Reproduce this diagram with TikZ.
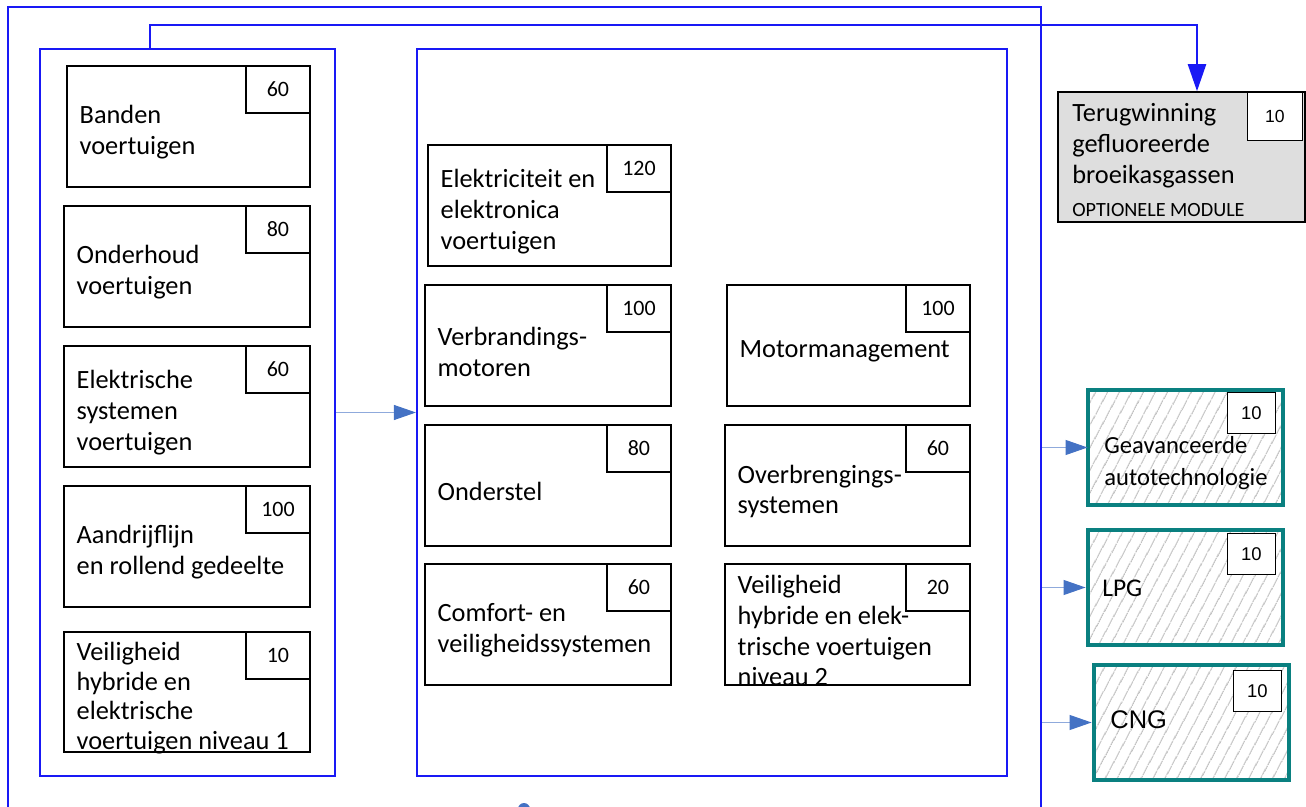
\documentclass[tikz,border=0pt]{standalone}
\usepackage{fontspec}
\setmainfont{Carlito}
\newfontfamily\arial{Liberation Sans}
\usetikzlibrary{arrows.meta,patterns.meta}

\definecolor{linkblue}{RGB}{25,25,245}
\definecolor{shaftblue}{RGB}{143,170,220}
\definecolor{tipblue}{RGB}{68,114,196}
\definecolor{tealbox}{RGB}{10,128,128}
\definecolor{greyfill}{RGB}{222,222,222}

\begin{document}
\begin{tikzpicture}[x=0.02cm, y=-0.02cm,
    box/.style={draw, line width=0.8pt, minimum width=4.92cm, minimum height=2.42cm, inner sep=0pt},
    boxtxt/.style={anchor=west, xshift=0.26cm, yshift=-0.12cm, inner sep=0pt, align=left, font=\fontsize{15}{17.6}\selectfont},
    numbox/.style={draw, line width=0.8pt, fill=white, minimum width=1.28cm, minimum height=0.94cm, inner sep=0pt, anchor=north east, font=\fontsize{12.5}{14}\selectfont},
    smallnum/.style={numbox, minimum width=0.96cm, minimum height=0.82cm, font=\arial\fontsize{10.5}{13}\selectfont},
    bluebox/.style={draw=linkblue, line width=1.3pt, inner sep=0pt},
    hatchbox/.style={draw=tealbox, line width=2.8pt, minimum width=3.9cm, minimum height=2.3cm, pattern={Lines[angle=62,distance=6.5pt,line width=0.55pt]}, pattern color=gray!75},
    feed/.style={shaftblue, line width=0.6pt, -{Triangle[length=0.44cm,width=0.3cm,color=tipblue]}}]
                    \useasboundingbox (0,0) rectangle (1306,807);

                    % containers
                    \node[bluebox, minimum width=20.66cm, minimum height=16.46cm] (outer) at (524.5,418.5) {};
                    \node[bluebox, minimum width=5.9cm, minimum height=14.54cm] (left) at (187.5,412.5) {};
                    \node[bluebox, minimum width=11.8cm, minimum height=14.54cm] (middle) at (712,412.5) {};

                    % left column
                    \node[box, minimum width=4.86cm] (banden) at (188.5,126.5) {};
                    \node[boxtxt] (tbanden) at (banden.west) {Banden\\voertuigen};
                    \node[numbox] (nbanden) at (banden.north east) {60};
                    \node[box] (onderhoud) at (187,266.5) {};
                    \node[boxtxt] (tonderhoud) at (onderhoud.west) {Onderhoud\\voertuigen};
                    \node[numbox] (nonderhoud) at (onderhoud.north east) {80};
                    \node[box] (elsys) at (187,406.5) {};
                    \node[boxtxt] (telsys) at (elsys.west) {Elektrische\\systemen\\voertuigen};
                    \node[numbox] (nelsys) at (elsys.north east) {60};
                    \node[box] (aandrijf) at (187,546.5) {};
                    \node[boxtxt] (taandrijf) at (aandrijf.west) {Aandrijflijn\\en rollend gedeelte};
                    \node[numbox] (naandrijf) at (aandrijf.north east) {100};
                    \node[box, minimum height=2.4cm] (veilig1) at (187,692) {};
                    \node[boxtxt, font=\fontsize{15}{16.8}\selectfont] (tveilig1) at (veilig1.west) {Veiligheid\\hybride en\\elektrische\\voertuigen niveau 1};
                    \node[numbox] (nveilig1) at (veilig1.north east) {10};

                    % middle column
                    \node[box, minimum width=4.86cm] (elek) at (549.5,205.5) {};
                    \node[boxtxt] (telek) at (elek.west) {Elektriciteit en\\elektronica\\voertuigen};
                    \node[numbox] (nelek) at (elek.north east) {120};
                    \node[box] (verbr) at (548,345.5) {};
                    \node[boxtxt] (tverbr) at (verbr.west) {Verbrandings-\\motoren};
                    \node[numbox] (nverbr) at (verbr.north east) {100};
                    \node[box] (onderstel) at (548,485.5) {};
                    \node[boxtxt] (tonderstel) at (onderstel.west) {Onderstel};
                    \node[numbox] (nonderstel) at (onderstel.north east) {80};
                    \node[box] (comfort) at (548,624.5) {};
                    \node[boxtxt] (tcomfort) at (comfort.west) {Comfort- en\\veiligheidssystemen};
                    \node[numbox] (ncomfort) at (comfort.north east) {60};
                    \node[box, minimum width=4.86cm] (motor) at (848.5,345.5) {};
                    \node[boxtxt] (tmotor) at (motor.west) {Motormanagement};
                    \node[numbox] (nmotor) at (motor.north east) {100};
                    \node[box, minimum width=4.9cm] (overbr) at (847.5,485.5) {};
                    \node[boxtxt] (toverbr) at (overbr.west) {Overbrengings-\\systemen};
                    \node[numbox] (noverbr) at (overbr.north east) {60};
                    \node[box, minimum width=4.9cm] (veilig2) at (847.5,624.5) {};
                    \node[boxtxt] (tveilig2) at (veilig2.west) {Veiligheid\\hybride en elek-\\trische voertuigen\\niveau 2};
                    \node[numbox] (nveilig2) at (veilig2.north east) {20};

                    % optional module
                    \node[draw, line width=0.9pt, fill=greyfill, minimum width=4.94cm, minimum height=2.6cm] (terug) at (1181.5,157) {};
                    \node[numbox, minimum width=1.1cm, minimum height=0.96cm, font=\arial\fontsize{10}{12}\selectfont] (nterug) at (1303,92) {10};
                    \node[anchor=west, align=left, inner sep=0pt, font=\fontsize{15}{17.6}\selectfont] (terugtxt) at (1072,146) {Terugwinning\\gefluoreerde\\broeikasgassen};
                    \node[anchor=west, inner sep=0pt, font=\fontsize{11.5}{13}\selectfont] (optmod) at (1072,210) {OPTIONELE MODULE};

                    % hatched modules
                    \node[hatchbox] (geav) at (1185.5,447.5) {};
                    \node[smallnum] (ngeav) at (1276,392) {10};
                    \node[anchor=west, align=left, inner sep=0pt, font=\fontsize{14}{18}\selectfont] (geavtxt) at (1104,463) {Geavanceerde\\autotechnologie};
                    \node[hatchbox] (lpg) at (1185.5,587.5) {};
                    \node[smallnum] (nlpg) at (1276,533) {10};
                    \node[anchor=west, inner sep=0pt, font=\fontsize{14.5}{16}\selectfont] (lpgtxt) at (1102,588) {LPG};
                    \node[hatchbox] (cng) at (1191.5,722.5) {};
                    \node[smallnum] (ncng) at (1282,670) {10};
                    \node[anchor=west, inner sep=0pt, font=\arial\fontsize{14.5}{16}\selectfont] (cngtxt) at (1110,720) {CNG};

                    % connectors
                    \draw[feed] (left.east) -- (middle.west);
                    \draw[feed] (outer.east |- geav.west) -- (geav.west);
                    \draw[feed] (outer.east |- lpg.west) -- (lpg.west);
                    \draw[feed] (outer.east |- cng.west) -- (cng.west);
                    \coordinate (tap) at (150,49);
                    \draw[linkblue, line width=1.3pt, -{Triangle[length=0.54cm,width=0.36cm]}] (tap) -- ++(0,-24) -| ([xshift=0.31cm]terug.north);

                    \fill[tipblue] (524,809) circle (0.12cm);
                \end{tikzpicture}
\end{document}
